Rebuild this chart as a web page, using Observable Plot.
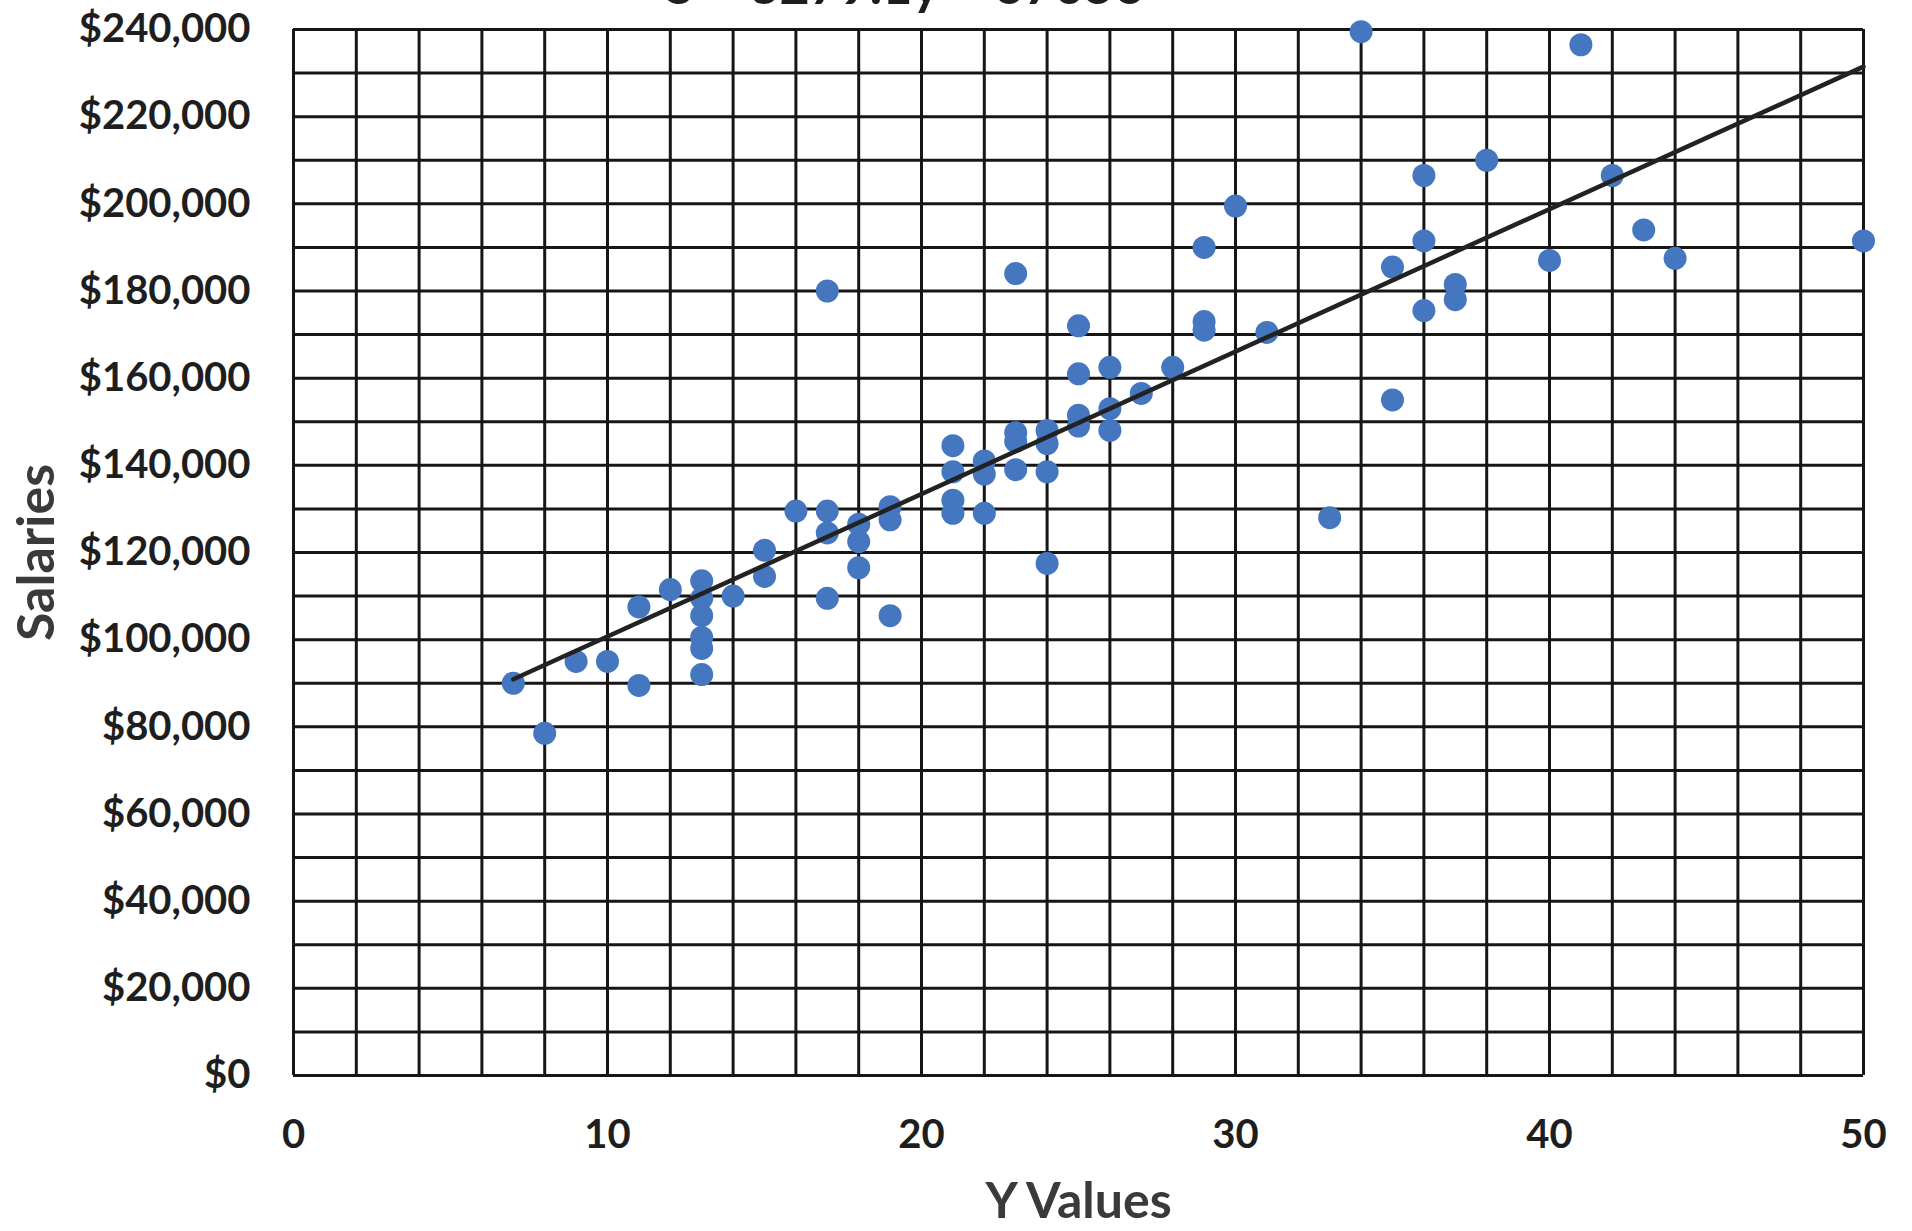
<!DOCTYPE html>
<html>
<head>
<meta charset="utf-8">
<script src="https://cdn.jsdelivr.net/npm/d3@7"></script>
<script src="https://cdn.jsdelivr.net/npm/@observablehq/plot@0.6"></script>
<style>
html, body { margin: 0; padding: 0; background: #fff; }
#wrap { position: relative; width: 1912px; height: 1231px; overflow: hidden; }
#title { position: absolute; left: 0; width: 1810px; top: -42px; text-align: center;
  font: bold 52px/52px Lato, sans-serif; color: #1e1e1e; white-space: nowrap; }
</style>
</head>
<body>
<div id="wrap"><div id="chart"></div><div id="title">S = 3279.1y + 67056</div></div>
<script>
// Y Values (x position) and salaries of each point
const yValues = [
  7, 8, 9, 10, 11, 11, 12,
  13, 13, 13, 13, 13, 13,
  14, 15, 15, 16,
  17, 17, 17, 17,
  18, 18, 18,
  19, 19, 19,
  21, 21, 21, 21,
  22, 22, 22,
  23, 23, 23, 23,
  24, 24, 24, 24,
  25, 25, 25, 25,
  26, 26, 26,
  27, 28,
  29, 29, 29,
  30, 31, 33, 34,
  35, 35,
  36, 36, 36,
  37, 37,
  38, 40, 41, 42, 43, 44, 50
];
const salaries = [
  90000, 78500, 95000, 95000, 107500, 89500, 111500,
  113500, 109500, 105500, 100500, 98000, 92000,
  110000, 120500, 114500, 129500,
  180000, 129500, 124500, 109500,
  126500, 122500, 116500,
  130500, 127500, 105500,
  144500, 138500, 132000, 129000,
  141000, 138000, 129000,
  184000, 147500, 145500, 139000,
  148000, 145000, 138500, 117500,
  172000, 161000, 151500, 149000,
  162500, 153000, 148000,
  156500, 162500,
  190000, 173000, 171000,
  199500, 170500, 128000, 239500,
  185500, 155000,
  206500, 191500, 175500,
  181500, 178000,
  210000, 187000, 236500, 206500, 194000, 187500, 191500
];
const xTickValues = [0, 10, 20, 30, 40, 50];
const yTickValues = [0, 20000, 40000, 60000, 80000, 100000, 120000, 140000, 160000, 180000, 200000, 220000, 240000];
const xGridValues = d3.range(0, 51, 2);
const yGridValues = d3.range(0, 240001, 10000);
const xLabel = "Y Values";
const yLabel = "Salaries";

const points = yValues.map((x, i) => ({x, salary: salaries[i]}));
const money = d => "$" + d3.format(",")(d);

const chart = Plot.plot({
  width: 1912,
  height: 1231,
  marginLeft: 293,
  marginRight: 49,
  marginTop: 29,
  marginBottom: 156,
  x: {domain: [0, 50]},
  y: {domain: [0, 240000]},
  style: {fontFamily: "Lato, sans-serif", background: "#fff", color: "#1e1e1e"},
  marks: [
    Plot.ruleX(xGridValues, {stroke: "#161616", strokeWidth: 3, strokeOpacity: 1}),
    Plot.ruleY(yGridValues, {stroke: "#161616", strokeWidth: 3, strokeOpacity: 1}),
    Plot.axisX(xTickValues, {tickSize: 0, tickPadding: 44, fontSize: 40, fontWeight: "bold", fill: "#1e1e1e", label: null}),
    Plot.axisY(yTickValues, {tickSize: 0, tickPadding: 43, tickFormat: money, fontSize: 40, fontWeight: "bold", fill: "#1e1e1e", label: null}),
    Plot.dot(points, {x: "x", y: "salary", r: 11.5, fill: "#4577c0", stroke: "none"}),
    Plot.linearRegressionY(points, {x: "x", y: "salary", stroke: "#222", strokeWidth: 4.5, ci: 0}),
    Plot.text([xLabel], {text: d => d, frameAnchor: "bottom", lineAnchor: "middle", dy: 126, fontSize: 50, fontWeight: "bold", fill: "#3a3a3a"}),
    Plot.text([yLabel], {text: d => d, frameAnchor: "left", textAnchor: "middle", lineAnchor: "middle", rotate: -90, dx: -256, fontSize: 52, fontWeight: "bold", fill: "#3a3a3a"})
  ]
});
document.getElementById("chart").appendChild(chart);
</script>
</body>
</html>
